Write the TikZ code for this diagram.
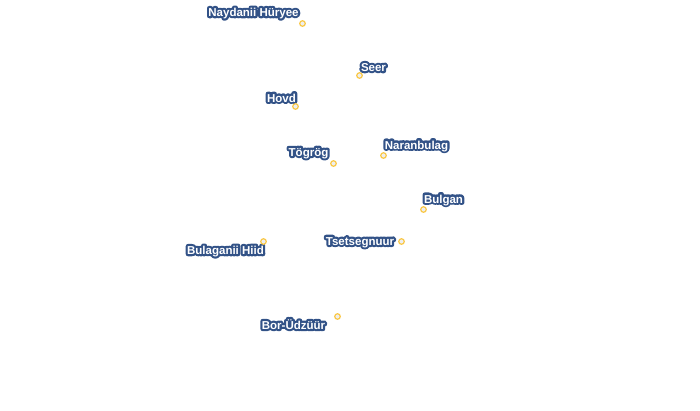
\documentclass[tikz,border=0pt]{standalone}
\usepackage{fontspec}
\setmainfont{Liberation Sans}
\usepackage{tikz}
\definecolor{halo}{RGB}{50,82,135}
\definecolor{ocre}{RGB}{250,200,70}
\definecolor{dotfill}{RGB}{238,238,238}
\newcommand{\placename}[1]{\rlap{\raisebox{0.8bp}{\textcolor{halo}{\special{pdf:code 2 Tr 4.4 w 1 J 1 j}#1\special{pdf:code 0 Tr 1 w}}}}\textcolor{white}{#1}}
\tikzset{
  town/.style={circle,draw=ocre,fill=dotfill,line width=1.2pt,inner sep=0pt,minimum size=5.6pt},
  townname/.style={inner sep=0pt,font=\fontsize{11.5bp}{12bp}\selectfont\bfseries},
}

\begin{document}
\begin{tikzpicture}[x=1bp,y=-1bp]
\useasboundingbox (0,0) rectangle (700,410);
\node [townname] (naydaniiname) at (253.5,13.5) {\placename{Naydanii Hüryee}};
\node [townname] (seername) at (373.5,67.5) {\placename{Seer}};
\node [townname] (hovdname) at (281.5,98) {\placename{Hovd}};
\node [townname] (togrogname) at (308.5,153.5) {\placename{Tögrög}};
\node [townname] (naranbulagname) at (416.5,146) {\placename{Naranbulag}};
\node [townname] (bulganname) at (443.5,200) {\placename{Bulgan}};
\node [townname] (bulaganiiname) at (225.5,251.5) {\placename{Bulaganii Hiid}};
\node [townname] (tsetsegnuurname) at (360,242.5) {\placename{Tsetsegnuur}};
\node [townname] (borudzuurname) at (293.5,324.5) {\placename{Bor-Üdzüür}};
\node [town] (naydanii) at (302.5,23.5) {};
\node [town] (seer) at (359.5,75.5) {};
\node [town] (hovd) at (295.5,106.5) {};
\node [town] (togrog) at (333.5,163.5) {};
\node [town] (naranbulag) at (383.5,155.5) {};
\node [town] (bulgan) at (423.5,209.5) {};
\node [town] (bulaganii) at (263.5,241.5) {};
\node [town] (tsetsegnuur) at (401.5,241.5) {};
\node [town] (borudzuur) at (337.5,316.5) {};
\end{tikzpicture}
\end{document}
